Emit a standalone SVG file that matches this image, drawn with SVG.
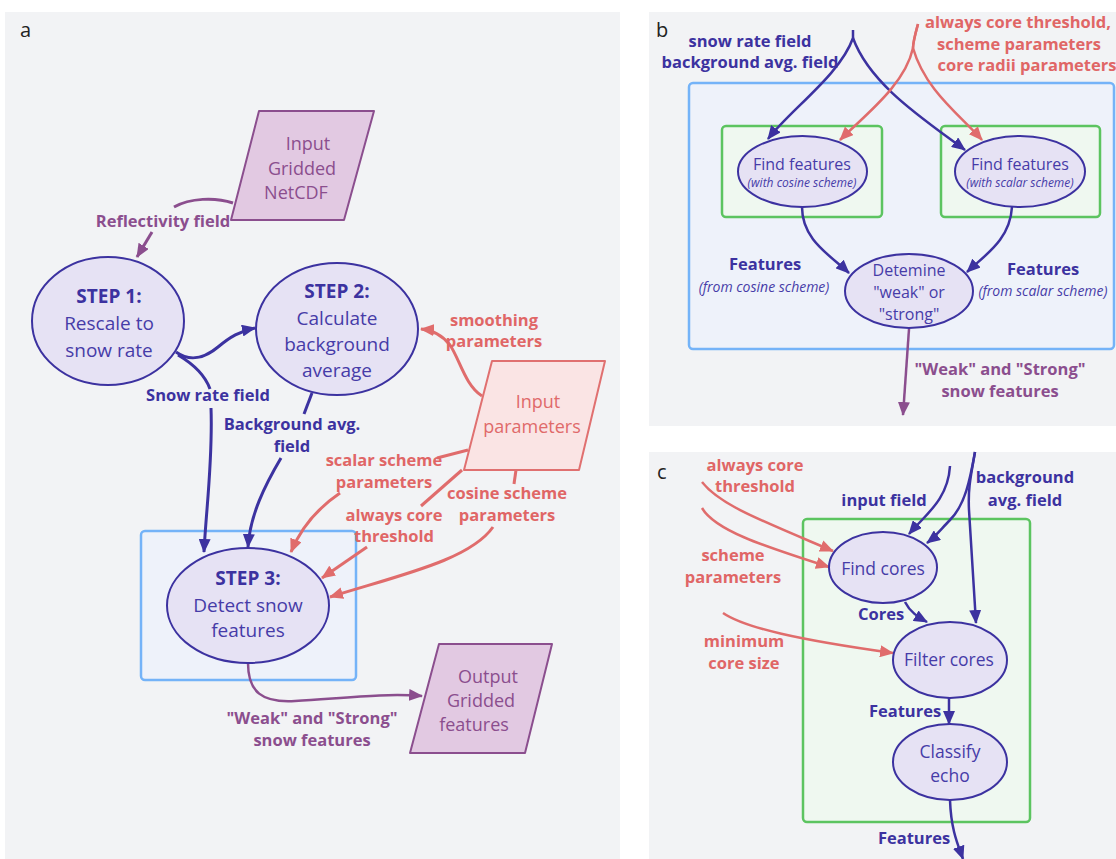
<svg xmlns="http://www.w3.org/2000/svg" width="1116" height="859" viewBox="0 0 1116 859">
<style>
text{font-family:"Open Sans","Noto Sans","DejaVu Sans",sans-serif}
.panel{fill:#f2f3f5}
.plab{font-size:20px;fill:#222}
.node{fill:#e6e2f4;stroke:#3c32a0;stroke-width:2}
.nt{fill:#463ca8;text-anchor:middle}
.nb{fill:#3c32a0;font-weight:700;text-anchor:middle}
.pp{fill:#e2c9e2;stroke:#8b4e8e;stroke-width:2;stroke-linejoin:round}
.ppt{fill:#8b4e8e;font-size:18px;text-anchor:middle}
.rp{fill:#fae4e4;stroke:#e07070;stroke-width:2;stroke-linejoin:round}
.rpt{fill:#e06a6a;font-size:18px;text-anchor:middle}
.bbox{fill:#eef2fa;stroke:#74b3f8;stroke-width:2.5}
.gbox{fill:#eff8f0;stroke:#5cc460;stroke-width:2.5}
.cb{fill:none;stroke:#3c32a0;stroke-width:2.5}
.cr{fill:none;stroke:#e06c6c;stroke-width:2.5}
.cp{fill:none;stroke:#8b4e8e;stroke-width:2.5}
.thick{stroke-width:3}
.lb{fill:#3c32a0;font-weight:700;font-size:16.5px;text-anchor:middle}
.lr{fill:#e06666;font-weight:700;font-size:16.5px;text-anchor:middle}
.lp{fill:#8b4e8e;font-weight:700;font-size:16.5px;text-anchor:middle}
.it{fill:#463ca8;font-style:italic;text-anchor:middle}
</style>
<defs>
<marker id="ab" markerUnits="userSpaceOnUse" markerWidth="14" markerHeight="12" refX="13" refY="6" orient="auto"><path d="M0,0 L14,6 L0,12 z" fill="#3c32a0"/></marker>
<marker id="ar" markerUnits="userSpaceOnUse" markerWidth="14" markerHeight="12" refX="13" refY="6" orient="auto"><path d="M0,0 L14,6 L0,12 z" fill="#e06c6c"/></marker>
<marker id="ap" markerUnits="userSpaceOnUse" markerWidth="14" markerHeight="12" refX="13" refY="6" orient="auto"><path d="M0,0 L14,6 L0,12 z" fill="#8b4e8e"/></marker>
</defs>
<rect x="0" y="0" width="1116" height="859" fill="#ffffff"/>
<rect class="panel" x="5" y="12" width="615" height="847"/>
<rect class="panel" x="649" y="12" width="467" height="414"/>
<rect class="panel" x="649" y="452" width="467" height="407"/>
<text class="plab" x="20" y="37">a</text>
<text class="plab" x="656" y="37">b</text>
<text class="plab" x="657" y="479">c</text>

<rect class="bbox" x="141" y="531" width="215" height="149" rx="4"/>
<rect class="bbox" x="689" y="83" width="425" height="266" rx="4"/>
<rect class="gbox" x="722" y="126" width="160" height="91" rx="4"/>
<rect class="gbox" x="941" y="126" width="159" height="91" rx="4"/>
<rect class="gbox" x="803" y="519" width="227" height="303" rx="4"/>

<g id="connectors">
<path class="cp thick" d="M233,203 C215,197 190,198 174,207"/>
<path class="cp thick" d="M152,232 L137,257" marker-end="url(#ap)"/>
<path class="cb thick" d="M176,352 C190,362 205,358 218,347 C230,337 240,331 255,328" marker-end="url(#ab)"/>
<path class="cb thick" d="M178,355 C195,365 205,375 210,389"/>
<path class="cb thick" d="M211,408 C213,460 206,510 204,552" marker-end="url(#ab)"/>
<path class="cb thick" d="M312,393 L304,414"/>
<path class="cb thick" d="M281,458 C265,485 250,515 248,547" marker-end="url(#ab)"/>
<path class="cp" d="M248,663 C248,692 262,703 295,701 C345,698 385,693 422,696" marker-end="url(#ap)"/>
<path class="cr thick" d="M482,396 C465,385 460,360 450,345 C442,335 432,330 421,329" marker-end="url(#ar)"/>
<path class="cr thick" d="M468,450 L437,458"/>
<path class="cr thick" d="M340,493 C315,510 300,530 291,552" marker-end="url(#ar)"/>
<path class="cr thick" d="M462,470 L421,506"/>
<path class="cr thick" d="M367,547 L322,578" marker-end="url(#ar)"/>
<path class="cr thick" d="M516,470 L514,484"/>
<path class="cr thick" d="M493,527 C470,560 400,575 330,597" marker-end="url(#ar)"/>

<path class="cb" d="M853,30 L853,38 C840,75 790,110 768,139" marker-end="url(#ab)"/>
<path class="cb" d="M853,38 C870,85 925,120 965,150" marker-end="url(#ab)"/>
<path class="cr" d="M918,24 C915,35 913,42 913,48 C905,85 865,115 840,140" marker-end="url(#ar)"/>
<path class="cr" d="M918,24 C915,35 913,42 913,48 C925,90 960,115 982,140" marker-end="url(#ar)"/>
<path class="cb" d="M802,207 C802,240 830,255 849,273" marker-end="url(#ab)"/>
<path class="cb" d="M1012,207 C1010,240 985,255 967,272" marker-end="url(#ab)"/>
<path class="cp" d="M909,329 L903,415" marker-end="url(#ap)"/>

<path class="cr" d="M702,482 C720,505 760,520 833,551" marker-end="url(#ar)"/>
<path class="cr" d="M702,508 C715,530 760,545 829,567" marker-end="url(#ar)"/>
<path class="cr" d="M723,613 C745,628 800,640 893,653" marker-end="url(#ar)"/>
<path class="cb" d="M950,466 C948,500 925,515 909,534" marker-end="url(#ab)"/>
<path class="cb" d="M975,452 C970,480 965,505 950,520 C942,528 935,537 927,543" marker-end="url(#ab)"/>
<path class="cb" d="M975,452 C970,480 968,490 969,510 L976,623" marker-end="url(#ab)"/>
<path class="cb" d="M905,602 C910,612 918,617 927,622" marker-end="url(#ab)"/>
<path class="cb" d="M949,698 L949,724" marker-end="url(#ab)"/>
<path class="cb" d="M950,800 C951,830 958,845 963,859" marker-end="url(#ab)"/>
</g>

<g id="input-netcdf">
<path class="pp" d="M259,111 L374,111 L344,220 L231,220 Z"/>
<text class="ppt" x="308" y="150">Input</text>
<text class="ppt" x="302" y="175">Gridded</text>
<text class="ppt" x="296" y="199">NetCDF</text>
</g>
<g id="step1">
<ellipse class="node" cx="108" cy="321" rx="76" ry="64"/>
<text class="nb" x="109" y="303" font-size="19">STEP 1:</text>
<text class="nt" x="109" y="330" font-size="19">Rescale to</text>
<text class="nt" x="109" y="357" font-size="19">snow rate</text>
</g>
<g id="step2">
<ellipse class="node" cx="337" cy="329" rx="81" ry="66"/>
<text class="nb" x="337" y="298" font-size="19">STEP 2:</text>
<text class="nt" x="337" y="325" font-size="19">Calculate</text>
<text class="nt" x="337" y="351" font-size="19">background</text>
<text class="nt" x="337" y="377" font-size="19">average</text>
</g>
<g id="input-params">
<path class="rp" d="M492,361 L605,361 L579,470 L464,470 Z"/>
<text class="rpt" x="538" y="408">Input</text>
<text class="rpt" x="532" y="433">parameters</text>
</g>
<g id="step3">
<ellipse class="node" cx="248" cy="605.5" rx="81" ry="57.5"/>
<text class="nb" x="248" y="585" font-size="19">STEP 3:</text>
<text class="nt" x="248" y="612" font-size="19">Detect snow</text>
<text class="nt" x="248" y="637" font-size="19">features</text>
</g>
<g id="output">
<path class="pp" d="M439,644 L552,644 L525,753 L410,753 Z"/>
<text class="ppt" x="488" y="683">Output</text>
<text class="ppt" x="481" y="707">Gridded</text>
<text class="ppt" x="474" y="731">features</text>
</g>

<g id="labels-a">
<text class="lp" x="163" y="227">Reflectivity field</text>
<text class="lb" x="208" y="401">Snow rate field</text>
<text class="lb" x="292" y="430">Background avg.</text>
<text class="lb" x="292" y="452">field</text>
<text class="lr" x="494" y="326">smoothing</text>
<text class="lr" x="494" y="347">parameters</text>
<text class="lr" x="384" y="466">scalar scheme</text>
<text class="lr" x="384" y="488">parameters</text>
<text class="lr" x="394" y="521">always core</text>
<text class="lr" x="394" y="542">threshold</text>
<text class="lr" x="507" y="499">cosine scheme</text>
<text class="lr" x="507" y="521">parameters</text>
<text class="lp" x="312" y="724">"Weak" and "Strong"</text>
<text class="lp" x="312" y="746">snow features</text>
</g>

<g id="find-cosine">
<ellipse class="node" cx="802.5" cy="171.5" rx="64.5" ry="35.5"/>
<text class="nt" x="802" y="170" font-size="16">Find features</text>
<text class="it" x="802" y="187" font-size="12">(with cosine scheme)</text>
</g>
<g id="find-scalar">
<ellipse class="node" cx="1020" cy="171.5" rx="65" ry="35.5"/>
<text class="nt" x="1020" y="170" font-size="16">Find features</text>
<text class="it" x="1020" y="187" font-size="12">(with scalar scheme)</text>
</g>
<g id="determine">
<ellipse class="node" cx="909" cy="291" rx="64" ry="37"/>
<text class="nt" x="909" y="276" font-size="16">Detemine</text>
<text class="nt" x="909" y="298" font-size="16">"weak" or</text>
<text class="nt" x="909" y="320" font-size="16">"strong"</text>
</g>
<g id="labels-b">
<text class="lb" x="750" y="47">snow rate field</text>
<text class="lb" x="750" y="68">background avg. field</text>
<text class="lr" x="1018" y="28">always core threshold,</text>
<text class="lr" x="1019" y="50">scheme parameters</text>
<text class="lr" x="1027" y="71">core radii parameters</text>
<text class="lb" x="765" y="270" font-size="18">Features</text>
<text class="it" x="764" y="292" font-size="14">(from cosine scheme)</text>
<text class="lb" x="1043" y="275" font-size="18">Features</text>
<text class="it" x="1043" y="296" font-size="14">(from scalar scheme)</text>
<text class="lp" x="1000" y="375">"Weak" and "Strong"</text>
<text class="lp" x="1000" y="397">snow features</text>
</g>

<g id="find-cores">
<ellipse class="node" cx="883" cy="567.5" rx="54" ry="35.5"/>
<text class="nt" x="883" y="575" font-size="17.5">Find cores</text>
</g>
<g id="filter-cores">
<ellipse class="node" cx="950" cy="660" rx="57" ry="38"/>
<text class="nt" x="949" y="666" font-size="17.5">Filter cores</text>
</g>
<g id="classify-echo">
<ellipse class="node" cx="950" cy="762" rx="57" ry="38"/>
<text class="nt" x="950" y="758" font-size="17.5">Classify</text>
<text class="nt" x="950" y="782" font-size="17.5">echo</text>
</g>
<g id="labels-c">
<text class="lr" x="755" y="471">always core</text>
<text class="lr" x="755" y="492">threshold</text>
<text class="lr" x="733" y="561">scheme</text>
<text class="lr" x="733" y="583">parameters</text>
<text class="lr" x="744" y="647">minimum</text>
<text class="lr" x="744" y="669">core size</text>
<text class="lb" x="884" y="506">input field</text>
<text class="lb" x="1025" y="483">background</text>
<text class="lb" x="1025" y="506">avg. field</text>
<text class="lb" x="881" y="620">Cores</text>
<text class="lb" x="905" y="717">Features</text>
<text class="lb" x="914" y="844">Features</text>
</g>
</svg>
